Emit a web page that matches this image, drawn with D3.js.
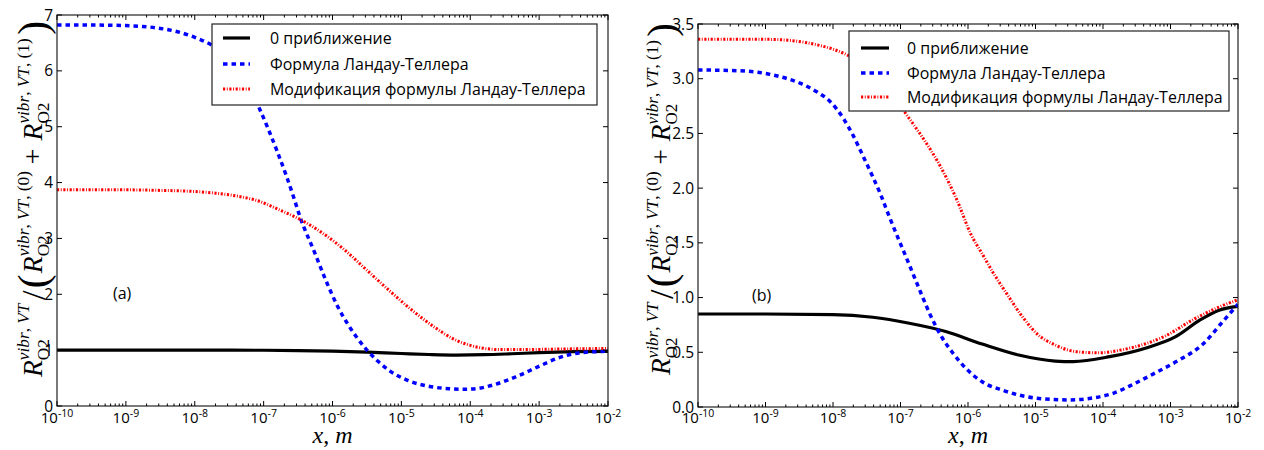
<!DOCTYPE html>
<html><head><meta charset="utf-8">
<script src="https://cdn.jsdelivr.net/npm/d3@7"></script>
<style>body{margin:0;background:#fff}</style>
</head><body>
<svg id="chart" width="1264" height="450"></svg>
<script>
// Legend entries
const seriesNames = ["0 приближение", "Формула Ландау-Теллера", "Модификация формулы Ландау-Теллера"];

// Decade exponents for the x axis (x in metres)
const xTickExponents = [-10, -9, -8, -7, -6, -5, -4, -3, -2];
const yTicksA = [0, 1, 2, 3, 4, 5, 6, 7];
const yTicksB = [0, 0.5, 1.0, 1.5, 2.0, 2.5, 3.0, 3.5];

// Panel (a): log10(x) and ratio values
const aZeroExp = [-10, -9, -8, -7, -6.5, -6, -5.5, -5, -4.6, -4.2, -3.8, -3.4, -3, -2.5, -2];
const aZeroVal = [1.0, 1.0, 1.0, 0.998, 0.993, 0.983, 0.965, 0.94, 0.922, 0.912, 0.918, 0.935, 0.955, 0.972, 0.978];

const aLTExp = [-10, -9.5, -9, -8.5, -8.25, -8, -7.75, -7.5, -7.25, -7.08, -6.94, -6.81, -6.67, -6.57, -6.47, -6.26, -6.1, -5.94, -5.77, -5.66, -5.5, -5.34, -5.17, -4.91, -4.59, -4.31, -4.1, -3.95, -3.66, -3.34, -3.02, -2.7, -2.42, -2];
const aLTVal = [6.82, 6.82, 6.81, 6.76, 6.7, 6.6, 6.46, 6.24, 5.86, 5.38, 4.98, 4.58, 4.12, 3.76, 3.38, 2.75, 2.26, 1.82, 1.45, 1.25, 1.0, 0.8, 0.63, 0.46, 0.35, 0.31, 0.3, 0.305, 0.38, 0.52, 0.7, 0.87, 0.95, 0.98];

const aModExp = [-10, -9, -8.5, -8, -7.7, -7.35, -7.1, -6.75, -6.47, -6.15, -5.82, -5.5, -5.17, -4.85, -4.53, -4.21, -3.88, -3.56, -3.24, -2.7, -2];
const aModVal = [3.87, 3.87, 3.86, 3.84, 3.81, 3.75, 3.68, 3.5, 3.34, 3.1, 2.79, 2.43, 2.06, 1.72, 1.42, 1.18, 1.05, 1.01, 1.01, 1.02, 1.03];

// Panel (b)
const bZeroExp = [-10, -9, -8, -7.41, -6.87, -6.33, -5.79, -5.25, -4.71, -4.44, -3.9, -3.36, -2.93, -2.55, -2.28, -2];
const bZeroVal = [0.85, 0.85, 0.845, 0.82, 0.765, 0.69, 0.575, 0.475, 0.42, 0.415, 0.46, 0.54, 0.64, 0.8, 0.885, 0.92];

const bLTExp = [-10, -9.5, -9.13, -8.79, -8.49, -8.24, -8.04, -7.85, -7.7, -7.56, -7.43, -7.3, -7.16, -7.04, -6.87, -6.71, -6.55, -6.39, -6.22, -6.01, -5.79, -5.47, -4.98, -4.5, -4.18, -3.85, -3.53, -3.2, -2.87, -2.51, -2.24, -2];
const bLTVal = [3.08, 3.075, 3.06, 3.02, 2.96, 2.88, 2.79, 2.64, 2.48, 2.3, 2.13, 1.95, 1.73, 1.55, 1.3, 1.06, 0.83, 0.64, 0.49, 0.34, 0.23, 0.15, 0.08, 0.065, 0.08, 0.125, 0.215, 0.32, 0.43, 0.58, 0.77, 0.94];

const bModExp = [-10, -9, -8.64, -8.24, -8, -7.8, -7.5, -7.2, -6.91, -6.67, -6.41, -6.17, -5.95, -5.79, -5.63, -5.41, -5.2, -4.98, -4.71, -4.39, -4.06, -3.74, -3.36, -3.09, -2.66, -2.33, -2];
const bModVal = [3.36, 3.36, 3.35, 3.31, 3.27, 3.22, 3.1, 2.92, 2.67, 2.46, 2.2, 1.9, 1.57, 1.4, 1.23, 1.02, 0.83, 0.67, 0.567, 0.505, 0.495, 0.52, 0.58, 0.645, 0.8, 0.9, 0.98];

const SANS = "'Open Sans', 'Noto Sans', sans-serif";
const SERIF = "'Liberation Serif', 'DejaVu Serif', serif";

const styles = [
  {stroke: "#000000", width: 3.2, dash: null},
  {stroke: "#0000ff", width: 3.5, dash: "4.5,4"},
  {stroke: "#ff0000", width: 3.0, dash: "2.2,1.6,0.9,1.6"}
];

const panels = [
  {left: 57, right: 608, top: 15, bottom: 406, yMax: 7, yTicks: yTicksA, fmt: d3.format("d"),
   tag: "(a)", tagX: 113, tagY: 299,
   legend: {x: 212, y: 24, w: 385, h: 81, rows: [38, 64, 89], lx0: 223, lx1: 250, tx: 270},
   ylab: {x: 42, y: 199, len: 356},
   series: [[aZeroExp, aZeroVal], [aLTExp, aLTVal], [aModExp, aModVal]]},
  {left: 698, right: 1238, top: 24, bottom: 407, yMax: 3.5, yTicks: yTicksB, fmt: d3.format(".1f"),
   tag: "(b)", tagX: 752, tagY: 301,
   legend: {x: 849, y: 31, w: 380, h: 80, rows: [48, 73, 97], lx0: 861, lx1: 889, tx: 907},
   ylab: {x: 670, y: 199, len: 352},
   series: [[bZeroExp, bZeroVal], [bLTExp, bLTVal], [bModExp, bModVal]]}
];

const svg = d3.select("#chart");

// Legend font size chosen so the longest entry spans ~316 px
const probe = svg.append("text").attr("font-family", SANS).attr("font-size", 17).text(seriesNames[2]);
const legendFont = 17 * 316 / probe.node().getComputedTextLength();
probe.remove();

// Rotated math label: R_O2^{vibr,VT} / (R_O2^{vibr,VT,(0)} + R_O2^{vibr,VT,(1)})
function mathYLabel(cfg) {
  const g = svg.append("g");
  const inner = g.append("g").attr("font-family", SERIF).attr("fill", "#000");
  let cur = 0;
  const F = 24, S = 15;
  function put(segs, size, dy) {
    const t = inner.append("text").attr("x", cur).attr("y", dy).attr("font-size", size);
    segs.forEach(([s, it]) => t.append("tspan").attr("font-style", it ? "italic" : "normal").text(s));
    return t.node().getComputedTextLength();
  }
  const main = (segs, size = F, gap = 0, dy = 0) => { cur += put(segs, size, dy) + gap; };
  const scripts = (sup, sub) => {
    const w1 = put(sup, S, -11);
    const w2 = put(sub, S, 6);
    cur += Math.max(w1, w2) + 3;
  };
  const sub = [["O2", false]];
  main([["R", true]]);
  scripts([["vibr", true], [", ", false], ["VT", true]], sub);
  main([["/", false]], F * 1.25, 2, 3);
  main([["(", false]], F * 1.5, 1, 4);
  main([["R", true]]);
  scripts([["vibr", true], [", ", false], ["VT", true], [", (0)", false]], sub);
  cur += 3;
  main([["+", false]], F, 7);
  main([["R", true]]);
  scripts([["vibr", true], [", ", false], ["VT", true], [", (1)", false]], sub);
  main([[")", false]], F * 1.5, 0, 4);
  const s = cfg.len / cur;
  g.attr("transform", `translate(${cfg.x},${cfg.y}) rotate(-90) scale(${s}) translate(${-cur / 2},0)`);
}

panels.forEach((p, pi) => {
  const x = d3.scaleLog().domain([1e-10, 1e-2]).range([p.left, p.right]);
  const y = d3.scaleLinear().domain([0, p.yMax]).range([p.bottom, p.top]);
  const g = svg.append("g");

  const clipId = "clip" + pi;
  svg.append("clipPath").attr("id", clipId).append("rect")
    .attr("x", p.left).attr("y", p.top).attr("width", p.right - p.left).attr("height", p.bottom - p.top);

  // curves, drawn black first so the dashed ones sit on top
  const line = d3.line().x(d => x(Math.pow(10, d[0]))).y(d => y(d[1])).curve(d3.curveMonotoneX);
  p.series.forEach(([ex, val], i) => {
    const pts = ex.map((e, k) => [e, val[k]]);
    const st = styles[i];
    g.append("path").attr("d", line(pts)).attr("fill", "none")
      .attr("stroke", st.stroke).attr("stroke-width", st.width)
      .attr("stroke-dasharray", st.dash).attr("clip-path", `url(#${clipId})`);
  });

  // frame
  g.append("rect").attr("x", p.left).attr("y", p.top).attr("width", p.right - p.left).attr("height", p.bottom - p.top)
    .attr("fill", "none").attr("stroke", "#222").attr("stroke-width", 1.2);

  // inward ticks on all four sides
  const tk = g.append("g").attr("stroke", "#000").attr("stroke-width", 1);
  xTickExponents.forEach(e => {
    const xx = x(Math.pow(10, e));
    tk.append("line").attr("x1", xx).attr("x2", xx).attr("y1", p.bottom).attr("y2", p.bottom - 5);
    tk.append("line").attr("x1", xx).attr("x2", xx).attr("y1", p.top).attr("y2", p.top + 5);
    if (e < -2) {
      for (let k = 2; k <= 9; k++) {
        const xm = x(k * Math.pow(10, e));
        tk.append("line").attr("x1", xm).attr("x2", xm).attr("y1", p.bottom).attr("y2", p.bottom - 2.5);
        tk.append("line").attr("x1", xm).attr("x2", xm).attr("y1", p.top).attr("y2", p.top + 2.5);
      }
    }
  });
  p.yTicks.forEach(v => {
    const yy = y(v);
    tk.append("line").attr("x1", p.left).attr("x2", p.left + 5).attr("y1", yy).attr("y2", yy);
    tk.append("line").attr("x1", p.right).attr("x2", p.right - 5).attr("y1", yy).attr("y2", yy);
  });

  // tick labels
  p.yTicks.forEach(v => {
    g.append("text").attr("x", p.left - 4).attr("y", y(v)).attr("dy", "0.36em")
      .attr("text-anchor", "end").attr("font-family", SANS).attr("font-size", 15.5).text(p.fmt(v));
  });
  xTickExponents.forEach(e => {
    const t = g.append("text").attr("x", x(Math.pow(10, e))).attr("y", 423)
      .attr("text-anchor", "middle").attr("font-family", SANS).attr("font-size", 15);
    t.append("tspan").text("10");
    t.append("tspan").attr("dy", -6).attr("font-size", 10.5).text("-" + Math.abs(e));
  });

  // x axis title
  const xt = g.append("text").attr("x", (p.left + p.right) / 2).attr("y", 443)
    .attr("text-anchor", "middle").attr("font-family", SERIF).attr("font-size", 24);
  xt.append("tspan").attr("font-style", "italic").text("x");
  xt.append("tspan").text(", ");
  xt.append("tspan").attr("font-style", "italic").text("m");

  // panel tag
  g.append("text").attr("x", p.tagX).attr("y", p.tagY).attr("font-family", SANS).attr("font-size", 16).text(p.tag);

  // legend
  const L = p.legend;
  g.append("rect").attr("x", L.x).attr("y", L.y).attr("width", L.w).attr("height", L.h)
    .attr("fill", "#fff").attr("stroke", "#222").attr("stroke-width", 1.2);
  seriesNames.forEach((name, i) => {
    const st = styles[i];
    g.append("line").attr("x1", L.lx0).attr("x2", L.lx1).attr("y1", L.rows[i]).attr("y2", L.rows[i])
      .attr("stroke", st.stroke).attr("stroke-width", st.width).attr("stroke-dasharray", st.dash);
    g.append("text").attr("x", L.tx).attr("y", L.rows[i]).attr("dy", "0.35em")
      .attr("font-family", SANS).attr("font-size", legendFont).text(name);
  });

  mathYLabel(p.ylab);
});
</script>
</body></html>
